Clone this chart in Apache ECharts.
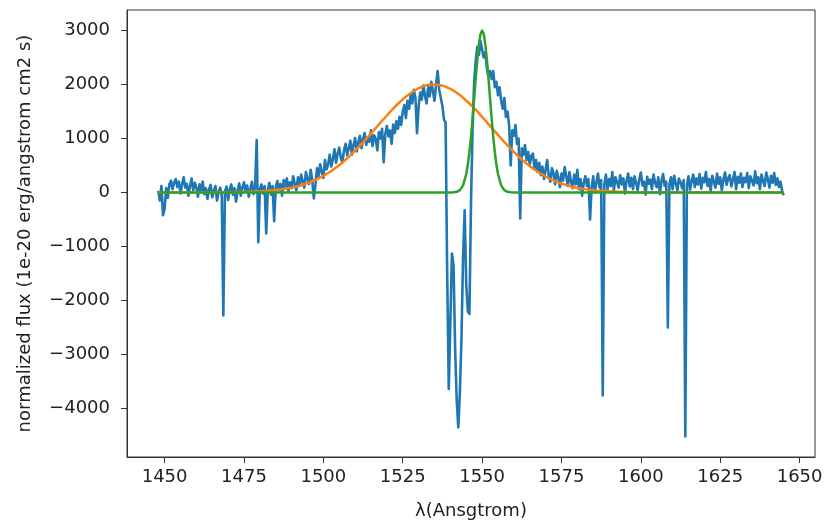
<!DOCTYPE html>
<html><head><meta charset="utf-8">
<script src="https://cdn.jsdelivr.net/npm/echarts@6/dist/echarts.min.js"></script>
<style>html,body{margin:0;padding:0;background:#fff}#c{width:828px;height:527px}</style>
</head><body><div id="c"></div>
<script>
// Wavelength sampling of the observed spectrum (Angstrom)
const fluxStart = 1448.0;
const fluxStep = 0.5;
const flux = [
  30, -150, 120, -420, -300, 80, -100, 150, 220, 60,
  180, 250, 100, 200, -20, 150, 280, 90, 160, -60,
  120, 260, 40, 180, 90, -80, 150, 30, 200, -30,
  80, -120, 60, 140, -90, 30, 120, -150, 10, 90,
  -60, -2280, 20, 110, -140, 60, 150, -40, 80, -170,
  40, 170, -60, 90, 190, 20, 130, -80, 70, 200,
  -30, 110, 970, -920, 60, 150, -20, 120, -760, 50,
  180, -40, 120, -530, 90, 210, 40, 160, -60, 230,
  110, 260, 20, 190, 80, 300, 150, 40, 280, 120,
  330, 200, 90, 380, 250, 160, 420, 230, -110, 140,
  450, 300, 520, 380, 270, 600, 430, 520, 700, 480,
  620, 800, 550, 720, 830, 640, 560, 780, 900, 690,
  820, 960, 700, 880, 1010, 760, 930, 1050, 820, 980,
  1100, 880, 1020, 940, 1150, 860, 1060, 990, 780, 1120,
  1000, 1180, 560, 1080, 1230, 1040, 1150, 900, 1260, 1100,
  1320, 1180, 1400, 1250, 1500, 1620, 1380, 1700, 1550, 1820,
  1650, 1900, 1750, 1100, 1600, 1850, 1720, 1980, 1800, 1650,
  1950, 1780, 2050, 1880, 1700, 2000, 2250, 1900, 1750, 1600,
  1350, 1300, -1500, -3640, -2400, -1130, -1350, -2900, -3850, -4350,
  -3700, -2700, -1200, -330, -1700, -2200, -2250, -200, 1200, 2050,
  2450, 2700, 2550, 2800, 2650, 2500, 2600, 2300, 2150, 2250,
  2100, 2250, 1950, 2050, 1800, 1950, 1700, 1550, 1750, 1400,
  1500, 1250, 500, 1150, 1050, 1250, 900, 1000, -480, 820,
  700, 880, 600, 750, 520, 680, 720, 450, 600, 380,
  550, 320, 480, 250, 420, 600, 300, 200, 450, 350,
  150, 400, 280, 100, 350, 220, 470, 300, 120, 380,
  200, 80, 330, 150, 420, 60, 250, -60, 180, 300,
  120, 250, -500, 100, 300, 20, 180, 350, 90, 230,
  -3760, 150, 330, 60, 250, 120, 380, 40, 280, 190,
  90, 320, 150, 260, -20, 220, 350, 110, 270, 60,
  300, 180, 40, 250, 370, 130, 200, -40, 290, 160,
  240, 60, 330, 180, 100, 280, -30, 210, 340, 120,
  200, -2500, 150, 280, 60, 310, 170, 40, 260, 190,
  80, 230, -4520, 140, 300, 50, 210, 330, 100, 260,
  150, 340, 70, 270, 190, 380, 120, 250, 30, 310,
  200, 90, 350, 160, 280, 40, 230, 370, 140, 260,
  320, 110, 240, 380, 60, 290, 180, 350, 100, 270,
  190, 360, 80, 300, 220, 130, 390, 170, 280, 60,
  330, 210, 120, 370, 250, 90, 310, 180, 360, 140,
  260, 100, 200, 20, -50
];
// Broad component (orange)
const broadX = [1448, 1470, 1480, 1485,
  1490, 1492, 1494, 1496, 1498, 1500, 1502, 1504, 1506, 1508,
  1510, 1512, 1514, 1516, 1518, 1520, 1522, 1524, 1526, 1528,
  1530, 1532, 1534, 1536, 1538, 1540, 1542, 1544, 1546, 1548,
  1550, 1552, 1554, 1556, 1558, 1560, 1562, 1564, 1566, 1568,
  1570, 1572, 1574, 1576, 1578, 1580, 1584, 1588, 1595, 1605, 1645];
const broadY = [0, 3, 19, 44,
  90, 118, 153, 196, 247, 309, 380, 463, 556, 660,
  774, 897, 1026, 1160, 1294, 1426, 1553, 1671, 1775, 1862,
  1930, 1976, 1998, 1996, 1969, 1918, 1846, 1755, 1648, 1528,
  1400, 1267, 1132, 1000, 872, 751, 638, 536, 445, 365,
  296, 236, 187, 146, 112, 85, 48, 25, 7, 1, 0];
// Narrow component (green)
const narrowX = [1448, 1540, 1541, 1542, 1543, 1544, 1545,
  1545.5, 1546, 1546.5, 1547, 1547.5, 1548, 1548.5, 1549, 1549.5, 1550,
  1550.5, 1551, 1551.5, 1552, 1552.5, 1553, 1553.5, 1554, 1554.5,
  1555, 1556, 1557, 1558, 1559, 1560, 1645];
const narrowY = [0, 1, 3, 12, 43, 132, 342,
  517, 747, 1036, 1374, 1744, 2120, 2468, 2750, 2936, 3000,
  2936, 2750, 2468, 2120, 1744, 1374, 1036, 747, 517,
  342, 132, 43, 12, 3, 1, 0];
const xTicks = [1450, 1475, 1500, 1525, 1550, 1575, 1600, 1625, 1650];
const yTicks = [-4000, -3000, -2000, -1000, 0, 1000, 2000, 3000];

const fluxData = flux.map((v, i) => [fluxStart + i * fluxStep, v]);
const broadData = broadX.map((x, i) => [x, broadY[i]]);
const narrowData = narrowX.map((x, i) => [x, narrowY[i]]);

const FONT = 'DejaVu Sans';
const txt = { fontFamily: FONT, fontSize: 18, color: '#222' };
const fmt = v => v < 0 ? '\u2212' + Math.abs(v) : String(v);

const chart = echarts.init(document.getElementById('c'), null, { renderer: 'canvas' });
chart.setOption({
  animation: false,
  backgroundColor: '#fff',
  grid: { left: 127, right: 13, top: 10, bottom: 70, show: true, borderColor: '#333', borderWidth: 1, containLabel: false },
  xAxis: {
    type: 'value', min: 1438.15, max: 1654.85,
    name: 'λ(Ansgtrom)', nameLocation: 'middle', nameGap: 45,
    nameTextStyle: txt,
    axisLine: { show: true, onZero: false, lineStyle: { color: '#333', width: 1 } },
    axisTick: { show: true, length: 6, customValues: xTicks, lineStyle: { color: '#333' } },
    axisLabel: Object.assign({ customValues: xTicks, margin: 11, formatter: fmt }, txt),
    splitLine: { show: false }
  },
  yAxis: {
    type: 'value', min: -4900, max: 3380,
    name: 'normalized flux (1e-20 erg/angstrom cm2 s)', nameLocation: 'middle', nameGap: 93,
    nameTextStyle: txt,
    axisLine: { show: true, onZero: false, lineStyle: { color: '#333', width: 1 } },
    axisTick: { show: true, length: 6, customValues: yTicks, lineStyle: { color: '#333' } },
    axisLabel: Object.assign({ customValues: yTicks, margin: 17, formatter: fmt }, txt),
    splitLine: { show: false }
  },
  series: [
    { type: 'line', data: fluxData, showSymbol: false, symbol: 'none',
      lineStyle: { color: '#1f77b4', width: 2.6, join: 'round' }, z: 2 },
    { type: 'line', data: broadData, showSymbol: false, symbol: 'none', smooth: 0.3,
      lineStyle: { color: '#ff7f0e', width: 2.5, join: 'round' }, z: 3 },
    { type: 'line', data: narrowData, showSymbol: false, symbol: 'none',
      lineStyle: { color: '#2ca02c', width: 2.5, join: 'round' }, z: 4 }
  ]
});
</script></body></html>
